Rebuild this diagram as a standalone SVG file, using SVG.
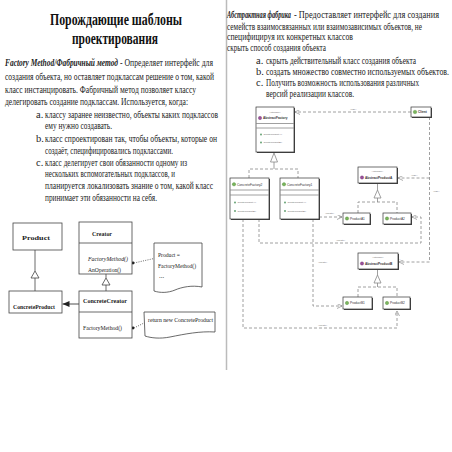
<svg xmlns="http://www.w3.org/2000/svg" width="452" height="452" viewBox="0 0 452 452">
<defs>
<style>
.t{font-family:"Liberation Serif","Times New Roman",serif;font-size:10.5px;fill:#222}
.bi{font-weight:bold;font-style:italic}
.h{font-family:"Liberation Serif","Times New Roman",serif;font-size:17.5px;font-weight:bold;fill:#111}
.u{font-family:"Liberation Serif","Times New Roman",serif;font-size:7px;fill:#222}
.ub{font-weight:bold}
.ui{font-style:italic}
.box{fill:#fff;stroke:#444;stroke-width:0.8}
.ln{fill:none;stroke:#444;stroke-width:0.8}
.dot{fill:none;stroke:#444;stroke-width:0.8;stroke-dasharray:1,1.3}
.rb{fill:#fff;stroke:#333;stroke-width:0.7}
.sh{fill:#444}
.rl{fill:none;stroke:#888;stroke-width:0.8;stroke-dasharray:3,2}
.rs{fill:none;stroke:#888;stroke-width:0.8}
.r{font-family:"Liberation Sans",Arial,sans-serif;font-size:3.2px;fill:#333}
.rt{font-family:"Liberation Sans",Arial,sans-serif;font-size:2.4px;fill:#666}
.ic{fill:#7ab55c;stroke:#3d7a2a;stroke-width:0.3}
.ip{fill:#9b4f9b;stroke:#5e2a5e;stroke-width:0.3}
.md{fill:#5a9a6a}
</style>
<marker id="fa" markerWidth="8" markerHeight="6" refX="7" refY="3" orient="auto" markerUnits="userSpaceOnUse">
<path d="M0,0 L7,3 L0,6 Z" fill="#222"/>
</marker>
<marker id="oa" markerWidth="6" markerHeight="5" refX="5" refY="2.5" orient="auto" markerUnits="userSpaceOnUse">
<path d="M0,0 L5,2.5 L0,5" fill="none" stroke="#777" stroke-width="0.6"/>
</marker>
</defs>
<rect width="452" height="452" fill="#fff"/>
<line x1="226.5" y1="0" x2="226.5" y2="370" stroke="#bbb" stroke-width="1.5"/>

<g id="left-text">
<text class="h" x="50" y="25" textLength="132" lengthAdjust="spacingAndGlyphs">Порождающие шаблоны</text>
<text class="h" x="72" y="43.5" textLength="86" lengthAdjust="spacingAndGlyphs">проектирования</text>
<text class="t bi" x="5" y="66" textLength="113" lengthAdjust="spacingAndGlyphs">Factory Method/Фабричный метод</text>
<text class="t" x="120" y="66" textLength="93" lengthAdjust="spacingAndGlyphs">- Определяет интерфейс для</text>
<text class="t" x="5" y="79.5" textLength="209" lengthAdjust="spacingAndGlyphs">создания объекта, но оставляет подклассам решение о том, какой</text>
<text class="t" x="5" y="92.5" textLength="191" lengthAdjust="spacingAndGlyphs">класс инстанцировать. Фабричный метод позволяет классу</text>
<text class="t" x="5" y="104.5" textLength="183" lengthAdjust="spacingAndGlyphs">делегировать создание подклассам. Используется, когда:</text>
<text class="t" x="36" y="118">a.</text>
<text class="t" x="45" y="118" textLength="173" lengthAdjust="spacingAndGlyphs">классу заранее неизвестно, объекты каких подклассов</text>
<text class="t" x="45" y="129" textLength="67" lengthAdjust="spacingAndGlyphs">ему нужно создавать.</text>
<text class="t" x="36" y="142">b.</text>
<text class="t" x="45" y="142" textLength="172" lengthAdjust="spacingAndGlyphs">класс спроектирован так, чтобы объекты, которые он</text>
<text class="t" x="45" y="153.5" textLength="128" lengthAdjust="spacingAndGlyphs">создаёт, специфицировались подклассами.</text>
<text class="t" x="36" y="165.5">c.</text>
<text class="t" x="45" y="165.5" textLength="142" lengthAdjust="spacingAndGlyphs">класс делегирует свои обязанности одному из</text>
<text class="t" x="45" y="177" textLength="130" lengthAdjust="spacingAndGlyphs">нескольких вспомогательных подклассов, и</text>
<text class="t" x="45" y="189" textLength="168" lengthAdjust="spacingAndGlyphs">планируется локализовать знание о том, какой класс</text>
<text class="t" x="45" y="200.5" textLength="112" lengthAdjust="spacingAndGlyphs">принимает эти обязанности на себя.</text>
</g>

<g id="right-text">
<text class="t bi" x="227" y="18" textLength="64" lengthAdjust="spacingAndGlyphs">Абстрактная фабрика</text>
<text class="t" x="294" y="18" textLength="145" lengthAdjust="spacingAndGlyphs">- Предоставляет интерфейс для создания</text>
<text class="t" x="227" y="29.5" textLength="195" lengthAdjust="spacingAndGlyphs">семейств взаимосвязанных или взаимозависимых объектов, не</text>
<text class="t" x="227" y="40" textLength="126" lengthAdjust="spacingAndGlyphs">специфицируя их конкретных классов</text>
<text class="t" x="227" y="50.5" textLength="99" lengthAdjust="spacingAndGlyphs">скрыть способ создания объекта</text>
<text class="t" x="256" y="64">a.</text>
<text class="t" x="266" y="64" textLength="150" lengthAdjust="spacingAndGlyphs">скрыть действительный класс создания объекта</text>
<text class="t" x="256" y="75">b.</text>
<text class="t" x="266" y="75" textLength="183" lengthAdjust="spacingAndGlyphs">создать множество совместно используемых объектов.</text>
<text class="t" x="256" y="86">c.</text>
<text class="t" x="266" y="86" textLength="153" lengthAdjust="spacingAndGlyphs">Получить возможность использования различных</text>
<text class="t" x="266" y="96.5" textLength="88" lengthAdjust="spacingAndGlyphs">версий реализации классов.</text>
</g>

<g id="connectors-left">
<line class="ln" x1="35" y1="250" x2="35" y2="271"/>
<path class="ln" d="M35,271 L39,278 L31,278 Z" fill="#fff"/>
<line class="ln" x1="35" y1="278" x2="35" y2="291"/>
<line class="ln" x1="106" y1="274" x2="106" y2="278"/>
<path class="ln" d="M106,278 L110,285 L102,285 Z" fill="#fff"/>
<line class="ln" x1="106" y1="285" x2="106" y2="291"/>
<line x1="79" y1="304" x2="62.5" y2="304" stroke="#222" stroke-width="0.8" marker-end="url(#fa)"/>
<circle cx="133" cy="263" r="1.4" fill="#222"/>
<line class="dot" x1="134" y1="263" x2="154" y2="258.5"/>
<circle cx="133" cy="328" r="1.4" fill="#222"/>
<line class="dot" x1="134" y1="328" x2="144" y2="323"/>
</g>

<g id="Product"><rect class="box" x="13" y="223" width="49" height="27"/><text class="u ub" x="22" y="240" textLength="28" lengthAdjust="spacingAndGlyphs">Product</text></g>
<g id="ConcreteProduct"><rect class="box" x="9" y="291" width="53" height="22"/><text class="u ub" x="13" y="309" textLength="42" lengthAdjust="spacingAndGlyphs">ConcreteProduct</text></g>
<g id="Creator"><rect class="box" x="79" y="222" width="53" height="52"/><line class="ln" x1="79" y1="243" x2="132" y2="243"/>
<text class="u ub" x="92" y="236" textLength="20" lengthAdjust="spacingAndGlyphs">Creator</text>
<text class="u ui" x="88" y="261" textLength="40" lengthAdjust="spacingAndGlyphs">FactoryMethod()</text>
<text class="u" x="88" y="272" textLength="33" lengthAdjust="spacingAndGlyphs">AnOperation()</text></g>
<g id="ConcreteCreator"><rect class="box" x="79" y="291" width="53" height="47"/><line class="ln" x1="79" y1="312" x2="132" y2="312"/>
<text class="u ub" x="83" y="303" textLength="44" lengthAdjust="spacingAndGlyphs">ConcreteCreator</text>
<text class="u" x="83" y="330" textLength="39" lengthAdjust="spacingAndGlyphs">FactoryMethod()</text></g>
<g id="note1"><path class="box" d="M154,243 H202 V287 C192,285 182,287 175,290 C168,293 160,293 154,291 Z"/>
<text class="u" x="158" y="257" textLength="22" lengthAdjust="spacingAndGlyphs">Product =</text>
<text class="u" x="158" y="268" textLength="38" lengthAdjust="spacingAndGlyphs">FactoryMethod()</text>
<text class="u" x="159" y="278">...</text></g>
<g id="note2"><path class="box" d="M144,312 H215 V332 C200,331 185,334 170,337 C160,339 151,338 145,336 Z"/>
<text class="u" x="148" y="322" textLength="65" lengthAdjust="spacingAndGlyphs">return new ConcreteProduct</text></g>

<g id="connectors-right">
<line class="rl" x1="411" y1="112" x2="295" y2="112" marker-end="url(#oa)"/>
<text class="rt" x="350" y="110">«use»</text>
<polyline class="rl" points="429.5,117 429.5,262 399,262" marker-end="url(#oa)"/>
<polyline class="rl" points="429.5,178 398,178" marker-end="url(#oa)"/>
<text class="rt" x="411" y="176">«use»</text>
<text class="rt" x="433" y="192">«use»</text>
<text class="rt" x="394" y="260">«use»</text>
<line class="rs" x1="274" y1="162" x2="274" y2="169"/>
<path class="rs" d="M274,153 L277.5,162 L270.5,162 Z" fill="#fff"/>
<polyline class="rl" points="249,178 249,169 298,169 298,178"/>
<line class="rs" x1="377.5" y1="183" x2="377.5" y2="190"/>
<path class="rs" d="M377.5,190 L381,198 L374,198 Z" fill="#fff"/>
<line class="rs" x1="377.5" y1="198" x2="377.5" y2="202"/>
<polyline class="rl" points="358,213 358,202 397,202 397,213"/>
<line class="rs" x1="377.5" y1="269" x2="377.5" y2="275"/>
<path class="rs" d="M377.5,275 L381,283 L374,283 Z" fill="#fff"/>
<line class="rs" x1="377.5" y1="283" x2="377.5" y2="287"/>
<polyline class="rl" points="358,297 358,287 397,287 397,297"/>
<line class="rl" x1="319" y1="217" x2="342" y2="217" marker-end="url(#oa)"/>
<text class="rt" x="325" y="214">«create»</text>
<polyline class="rl" points="259,219 259,243 421,243 421,217 412,217" marker-end="url(#oa)"/>
<text class="rt" x="336" y="241">«create»</text>
<polyline class="rl" points="313,219 313,306 342,306" marker-end="url(#oa)"/>
<text class="rt" x="318" y="263">«create»</text>
<polyline class="rl" points="243,219 243,328 397,328 397,311" marker-end="url(#oa)"/>
<text class="rt" x="318" y="326">«create»</text>
</g>

<g id="Client"><rect class="sh" x="412" y="108" width="20" height="10"/><rect class="rb" x="411" y="107" width="20" height="10"/>
<circle class="ic" cx="415" cy="112" r="1.8"/><text class="r ub" x="418" y="113.2">Client</text></g>
<g id="AbstractFactory"><rect class="sh" x="257" y="108" width="38" height="45"/><rect class="rb" x="256" y="107" width="38" height="45"/>
<line class="rs" x1="256" y1="123.5" x2="294" y2="123.5" stroke="#333"/><line class="rs" x1="256" y1="128" x2="294" y2="128" stroke="#333"/>
<text class="rt" x="275" y="113" text-anchor="middle">«interface»</text>
<circle class="ip" cx="260" cy="118" r="1.7"/><text class="r ub" x="263" y="119.2">AbstractFactory</text>
<circle class="md" cx="261" cy="134.5" r="0.9"/><text class="rt" x="263.5" y="135.4">CreateProductA()</text>
<circle class="md" cx="261" cy="142.5" r="0.9"/><text class="rt" x="263.5" y="143.4">CreateProductB()</text></g>
<g id="ConcreteFactory2"><rect class="sh" x="231" y="179" width="39" height="41"/><rect class="rb" x="230" y="178" width="39" height="41"/>
<line class="rs" x1="230" y1="190" x2="269" y2="190" stroke="#333"/><line class="rs" x1="230" y1="195" x2="269" y2="195" stroke="#333"/>
<circle class="ic" cx="234" cy="184.3" r="1.7"/><text class="r" x="237" y="185.5">ConcreteFactory2</text>
<circle class="md" cx="235" cy="202.5" r="0.9"/><text class="rt" x="237.5" y="203.4">CreateProductA()</text>
<circle class="md" cx="235" cy="211" r="0.9"/><text class="rt" x="237.5" y="211.9">CreateProductB()</text></g>
<g id="ConcreteFactory1"><rect class="sh" x="281" y="179" width="39" height="41"/><rect class="rb" x="280" y="178" width="39" height="41"/>
<line class="rs" x1="280" y1="190" x2="319" y2="190" stroke="#333"/><line class="rs" x1="280" y1="195" x2="319" y2="195" stroke="#333"/>
<circle class="ic" cx="284" cy="184.3" r="1.7"/><text class="r" x="287" y="185.5">ConcreteFactory1</text>
<circle class="md" cx="285" cy="202.5" r="0.9"/><text class="rt" x="287.5" y="203.4">CreateProductA()</text>
<circle class="md" cx="285" cy="211" r="0.9"/><text class="rt" x="287.5" y="211.9">CreateProductB()</text></g>
<g id="AbstractProductA"><rect class="sh" x="359" y="168" width="39" height="16"/><rect class="rb" x="358" y="167" width="39" height="16"/>
<text class="rt" x="377.5" y="172" text-anchor="middle">«interface»</text>
<circle class="ip" cx="362" cy="177.5" r="1.7"/><text class="r ub" x="365" y="178.7">AbstractProductA</text></g>
<g id="ProductA1"><rect class="sh" x="344" y="214" width="27" height="11"/><rect class="rb" x="343" y="213" width="27" height="11"/>
<circle class="ic" cx="347" cy="218.5" r="1.7"/><text class="r" x="350" y="219.7">ProductA1</text></g>
<g id="ProductA2"><rect class="sh" x="384" y="214" width="28" height="11"/><rect class="rb" x="383" y="213" width="28" height="11"/>
<circle class="ic" cx="387" cy="218.5" r="1.7"/><text class="r" x="390" y="219.7">ProductA2</text></g>
<g id="AbstractProductB"><rect class="sh" x="359" y="254" width="40" height="16"/><rect class="rb" x="358" y="253" width="40" height="16"/>
<text class="rt" x="378" y="258" text-anchor="middle">«interface»</text>
<circle class="ip" cx="362" cy="263.5" r="1.7"/><text class="r ub" x="365" y="264.7">AbstractProductB</text></g>
<g id="ProductB1"><rect class="sh" x="344" y="298" width="29" height="12"/><rect class="rb" x="343" y="297" width="29" height="12"/>
<circle class="ic" cx="347" cy="303" r="1.7"/><text class="r" x="350" y="304.2">ProductB1</text></g>
<g id="ProductB2"><rect class="sh" x="384" y="298" width="27" height="12"/><rect class="rb" x="383" y="297" width="27" height="12"/>
<circle class="ic" cx="387" cy="303" r="1.7"/><text class="r" x="390" y="304.2">ProductB2</text></g>
</svg>
